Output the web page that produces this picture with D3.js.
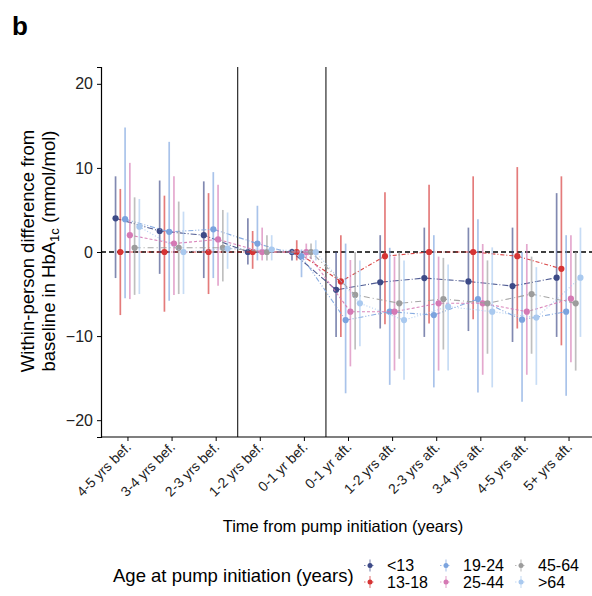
<!doctype html>
<html lang="en">
<head>
  <meta charset="utf-8">
  <title>HbA1c by age at pump initiation</title>
  <script src="https://d3js.org/d3.v7.min.js"></script>
  <style>
    body { margin: 0; background: #fff; }
    text { font-family: "Liberation Sans", Arial, Helvetica, sans-serif; }
  </style>
</head>
<body>
<div id="chart"></div>
<script>
// time bins on the x axis
var timepoints = ["4-5 yrs bef.", "3-4 yrs bef.", "2-3 yrs bef.", "1-2 yrs bef.", "0-1 yr bef.",
                  "0-1 yr aft.", "1-2 yrs aft.", "2-3 yrs aft.", "3-4 yrs aft.", "4-5 yrs aft.", "5+ yrs aft."];
var ageGroups = ["<13", "13-18", "19-24", "25-44", "45-64", ">64"];
var colors = ["#3d4a87", "#d63434", "#7ba3de", "#d579b4", "#9c9c9c", "#a9c9ef"];
var dashes = ["6,2,1,2", "4,2,1,2", "5,2,1,2,1,2", "3,2", "6,3,1,3", "1,2"];
var yTicks = [-20, -10, 0, 10, 20];

// medians per age group (mmol/mol), one per time bin
var medLt13 = [4.0, 2.5, 2.0, 0, 0, -4.5, -3.6, -3.1, -3.5, -4.05, -3.05];
var med1318 = [0, 0, 0, 0, 0, -3.5, -0.5, 0, 0, -0.5, -2.0];
var med1924 = [3.9, 2.4, 2.7, 1.0, -0.5, -8.1, -7.1, -7.5, -5.6, -8.05, -7.1];
var med2544 = [2.0, 1.0, 1.5, 0, 0, -7.1, -7.1, -6.1, -6.1, -7.1, -5.55];
var med4564 = [0.5, 0.5, 0.5, 0, 0, -5.1, -6.1, -5.6, -6.1, -5.0, -6.1];
var medGt64 = [3.0, 0, 0.4, 0.3, 0, -6.1, -8.1, -6.5, -7.1, -7.8, -3.05];

// lower and upper interval ends
var loLt13 = [-3.1, -2.6, -3.1, -1.5, -1.0, -10.1, -9.1, -10.1, -9.4, -10.7, -10.1];
var hiLt13 = [9.0, 8.5, 8.4, 4.0, 0.4, 0, 2.0, 2.9, 2.9, 2.9, 7.0];
var lo1318 = [-7.5, -7.1, -5.0, -2.0, -1.0, -10.1, -8.6, -8.5, -8.0, -9.1, -11.1];
var hi1318 = [7.5, 6.7, 7.0, 2.5, 1.4, 2.0, 7.1, 8.0, 9.0, 10.1, 9.0];
var lo1924 = [-5.5, -5.8, -3.1, -1.0, -3.0, -16.8, -15.8, -16.1, -16.7, -17.8, -17.1];
var hi1924 = [14.8, 13.1, 9.5, 5.5, 0.3, 1.0, 0.5, 2.0, 3.9, 0.0, 2.0];
var lo2544 = [-5.6, -5.1, -4.0, -1.0, -0.9, -13.6, -14.1, -14.1, -14.6, -14.6, -13.1];
var hi2544 = [10.6, 9.0, 8.0, 2.9, 1.0, -0.95, -0.55, -0.55, 0.95, 0.95, 2.0];
var lo4564 = [-5.1, -5.0, -3.5, -1.0, -0.8, -11.6, -12.7, -11.6, -12.1, -12.1, -14.1];
var hi4564 = [6.5, 6.0, 5.0, 2.0, 1.0, 0, 0, -0.7, -1.0, -0.55, 0];
var loGt64 = [-5.0, -5.0, -2.0, -1.0, -1.0, -11.2, -15.2, -14.1, -16.1, -15.8, -10.1];
var hiGt64 = [6.3, 4.8, 4.7, 2.0, 1.4, -1.0, -1.0, -1.5, 0.55, -1.8, 2.9];

var medians = [medLt13, med1318, med1924, med2544, med4564, medGt64];
var lows = [loLt13, lo1318, lo1924, lo2544, lo4564, loGt64];
var highs = [hiLt13, hi1318, hi1924, hi2544, hi4564, hiGt64];

var series = ageGroups.map(function(g, k) {
  return {
    group: g, color: colors[k], dash: dashes[k],
    values: timepoints.map(function(t, i) {
      return { i: i, med: medians[k][i], lo: lows[k][i], hi: highs[k][i] };
    })
  };
});

var W = 592, H = 596;
var svg = d3.select("#chart").append("svg").attr("width", W).attr("height", H);

var x = d3.scaleLinear().domain([-0.6, 10.6]).range([101, 595]);
var y = d3.scaleLinear().domain([-22, 22]).range([437, 67]);
var dodge = d3.scalePoint().domain(ageGroups).range([-0.27, 0.27]);

// panel separators
svg.selectAll("line.sep").data([2.5, 4.5]).enter().append("line")
  .attr("x1", function(d) { return x(d); }).attr("x2", function(d) { return x(d); })
  .attr("y1", y(22)).attr("y2", y(-22))
  .attr("stroke", "#000").attr("stroke-width", 1);

// zero line
svg.append("line")
  .attr("x1", x(-0.6)).attr("x2", x(10.6)).attr("y1", y(0)).attr("y2", y(0))
  .attr("stroke", "#000").attr("stroke-width", 1.4).attr("stroke-dasharray", "5,3");

var line = d3.line()
  .x(function(d) { return x(d.i + d.off); })
  .y(function(d) { return y(d.med); });

var g = svg.selectAll("g.series").data(series).enter().append("g").attr("class", "series");

// error bars
g.selectAll("line.err")
  .data(function(s) { return s.values.map(function(v) { return { v: v, s: s }; }); })
  .enter().append("line")
  .attr("x1", function(d) { return x(d.v.i + dodge(d.s.group)); })
  .attr("x2", function(d) { return x(d.v.i + dodge(d.s.group)); })
  .attr("y1", function(d) { return y(d.v.lo); })
  .attr("y2", function(d) { return y(d.v.hi); })
  .attr("stroke", function(d) { return d.s.color; })
  .attr("stroke-opacity", 0.65)
  .attr("stroke-width", 1.7);

// connecting lines
g.append("path")
  .attr("d", function(s) {
    return line(s.values.map(function(v) { return { i: v.i, off: dodge(s.group), med: v.med }; }));
  })
  .attr("fill", "none")
  .attr("stroke", function(s) { return s.color; })
  .attr("stroke-width", 1.1)
  .attr("stroke-opacity", 0.9)
  .attr("stroke-dasharray", function(s) { return s.dash; });

// points
g.selectAll("circle")
  .data(function(s) { return s.values.map(function(v) { return { v: v, s: s }; }); })
  .enter().append("circle")
  .attr("cx", function(d) { return x(d.v.i + dodge(d.s.group)); })
  .attr("cy", function(d) { return y(d.v.med); })
  .attr("r", 3.1)
  .attr("fill", function(d) { return d.s.color; });

// axes
var yAxis = svg.append("g").attr("transform", "translate(101,0)")
  .call(d3.axisLeft(y).tickValues(yTicks).tickSize(4).tickPadding(4));
yAxis.select(".domain").attr("stroke-width", 1.2);
yAxis.selectAll("text").style("font-size", "16px").attr("fill", "#222");

var xAxis = svg.append("g").attr("transform", "translate(0,437)")
  .call(d3.axisBottom(x).tickValues(d3.range(timepoints.length))
    .tickFormat(function(i) { return timepoints[i]; }).tickSize(4));
xAxis.select(".domain").attr("stroke-width", 1.2).attr("d", "M" + x(-0.6) + ",0H" + x(10.6));
xAxis.selectAll("text")
  .style("font-size", "14px").attr("fill", "#222")
  .attr("text-anchor", "end")
  .attr("dy", null)
  .attr("transform", "translate(4,11) rotate(-45)")
  .attr("y", 0).attr("x", 0);

// titles
svg.append("text").attr("x", 343).attr("y", 532).attr("text-anchor", "middle")
  .style("font-size", "16.5px").text("Time from pump initiation (years)");

var yt = svg.append("text").attr("transform", "translate(34,251) rotate(-90)")
  .attr("text-anchor", "middle").style("font-size", "18.5px");
yt.append("tspan").attr("x", 0).attr("y", 0).text("Within-person difference from");
var yt2 = svg.append("text").attr("transform", "translate(55,251) rotate(-90)")
  .attr("text-anchor", "middle").style("font-size", "18.5px");
yt2.append("tspan").text("baseline in HbA");
yt2.append("tspan").attr("dy", 4).style("font-size", "13px").text("1c");
yt2.append("tspan").attr("dy", -4).text(" (mmol/mol)");

svg.append("text").attr("x", 12).attr("y", 35).style("font-size", "26px")
  .style("font-weight", "bold").text("b");

// legend
svg.append("text").attr("x", 113).attr("y", 582).style("font-size", "18.5px")
  .text("Age at pump initiation (years)");
var legCols = [370, 446, 521];
var leg = svg.selectAll("g.leg").data(series).enter().append("g")
  .attr("transform", function(s, k) {
    return "translate(" + legCols[Math.floor(k / 2)] + "," + (k % 2 === 0 ? 565.5 : 582) + ")";
  });
leg.append("line").attr("x1", -6).attr("x2", 6).attr("y1", 0).attr("y2", 0)
  .attr("stroke", function(s) { return s.color; }).attr("stroke-opacity", 0.7)
  .attr("stroke-dasharray", "1.5,2.5");
leg.append("line").attr("x1", 0).attr("x2", 0).attr("y1", -6).attr("y2", 6)
  .attr("stroke", function(s) { return s.color; }).attr("stroke-opacity", 0.6).attr("stroke-width", 1.2);
leg.append("circle").attr("r", 2.5).attr("fill", function(s) { return s.color; });
leg.append("text").attr("x", 17).attr("y", 5.5).style("font-size", "16px")
  .text(function(s) { return s.group; });
</script>
</body>
</html>
